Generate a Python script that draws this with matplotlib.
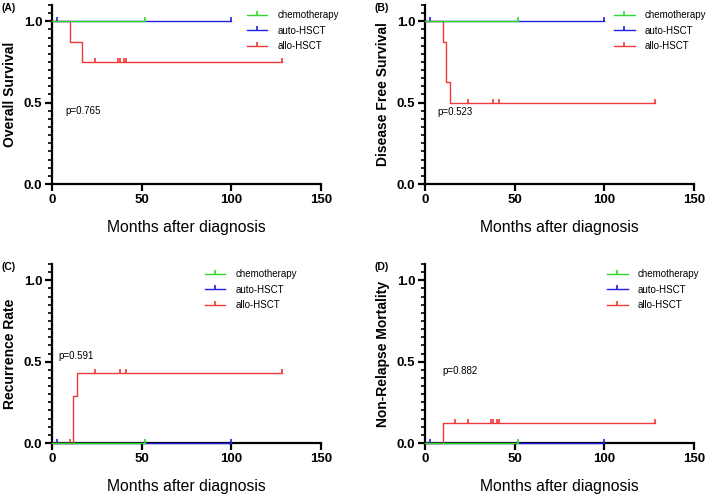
import numpy as np
import matplotlib.pyplot as plt
from matplotlib.ticker import MultipleLocator
from matplotlib.lines import Line2D

plt.rcParams['font.family'] = ['Liberation Sans', 'DejaVu Sans']

groups = ["chemotherapy", "auto-HSCT", "allo-HSCT"]
colors = {"chemotherapy": "#2fd82f", "auto-HSCT": "#2020e0", "allo-HSCT": "#f03a3a"}

# step curves: (times, values, censor times) per group
os_curves = {
    "chemotherapy": ([0, 52], [1.0, 1.0], [52]),
    "auto-HSCT": ([0, 100], [1.0, 1.0], [3, 100]),
    "allo-HSCT": ([0, 10, 17, 128], [1.0, 0.875, 0.75, 0.75], [24, 37, 38, 40, 41, 128]),
}
dfs_curves = {
    "chemotherapy": ([0, 52], [1.0, 1.0], [52]),
    "auto-HSCT": ([0, 100], [1.0, 1.0], [3, 100]),
    "allo-HSCT": ([0, 10, 12, 14, 128], [1.0, 0.875, 0.625, 0.5, 0.5], [24, 38, 41, 128]),
}
rr_curves = {
    "chemotherapy": ([0, 52], [0.0, 0.0], [52]),
    "auto-HSCT": ([0, 100], [0.0, 0.0], [3, 100]),
    "allo-HSCT": ([0, 12, 14, 128], [0.0, 0.286, 0.429, 0.429], [10, 24, 38, 41, 128]),
}
nrm_curves = {
    "chemotherapy": ([0, 52], [0.0, 0.0], [52]),
    "auto-HSCT": ([0, 100], [0.0, 0.0], [3, 100]),
    "allo-HSCT": ([0, 10, 128], [0.0, 0.125, 0.125], [17, 24, 37, 38, 40, 41, 128]),
}

panels = [
    ("(A)", "Overall Survival", os_curves, "p=0.765", (7.5, 0.45)),
    ("(B)", "Disease Free Survival", dfs_curves, "p=0.523", (7.0, 0.44)),
    ("(C)", "Recurrence Rate", rr_curves, "p=0.591", (3.5, 0.535)),
    ("(D)", "Non-Relapse Mortality", nrm_curves, "p=0.882", (9.5, 0.44)),
]

# axes rectangles in figure fraction
rects = [
    [0.0733, 0.6305, 0.3795, 0.3595],
    [0.5994, 0.6305, 0.3795, 0.3595],
    [0.0733, 0.1104, 0.3795, 0.3595],
    [0.5994, 0.1104, 0.3795, 0.3595],
]
legend_x = [0.725, 0.703, 0.569, 0.677]

tick_marker = [(0, 0), (0, 1)]

fig = plt.figure(figsize=(7.09, 4.98), dpi=100)

for i, (tag, ylabel, curves, ptxt, ppos) in enumerate(panels):
    ax = fig.add_axes(rects[i])
    # draw allo first so chemotherapy ends up on top
    for g in reversed(groups):
        t, v, c = curves[g]
        ax.step(t, v, where='post', color=colors[g], lw=1.0, clip_on=False, zorder=4)
        # step value at each censor time
        idx = np.searchsorted(t, c, side='right') - 1
        cy = np.array(v)[idx]
        ax.plot(c, cy, ls='none', marker=tick_marker, ms=6, mew=1.2,
                color=colors[g], clip_on=False, zorder=4)

    ax.set_xlim(0, 150)
    ax.set_ylim(0, 1.1)
    ax.set_xticks([0, 50, 100, 150])
    ax.set_yticks([0, 0.5, 1.0])
    ax.set_yticklabels(["0.0", "0.5", "1.0"])
    ax.yaxis.set_minor_locator(MultipleLocator(0.05))
    for s in ['top', 'right']:
        ax.spines[s].set_visible(False)
    for s in ['left', 'bottom']:
        ax.spines[s].set_linewidth(1.6)
    ax.tick_params(axis='both', which='major', length=5, width=1.6, labelsize=9.5, pad=2)
    ax.tick_params(axis='y', which='minor', length=3, width=1.2)
    for lab in ax.get_xticklabels() + ax.get_yticklabels():
        lab.set_fontweight('bold')
    ax.set_xlabel("Months after diagnosis", fontsize=11.3, labelpad=10)
    ax.set_ylabel(ylabel, fontsize=10, fontweight='bold', labelpad=5)

    ax.text(ppos[0], ppos[1], ptxt, fontsize=7, va='center', ha='left')

    handles = [Line2D([0, 0.5, 1], [0, 0, 0], color=colors[g], lw=1.0, marker=tick_marker,
                      ms=6, mew=1.2, markevery=[1]) for g in groups]
    ax.legend(handles, groups, loc='upper left', bbox_to_anchor=(legend_x[i], 0.97),
              frameon=False, fontsize=7, handlelength=2.1, handletextpad=1.0,
              labelspacing=0.55, borderpad=0, borderaxespad=0)

    ax.text(-0.16, 0.983, tag, transform=ax.transAxes, fontsize=7.5,
            fontweight='bold', ha='center', va='center')

fig.savefig('out.png', dpi=100)
